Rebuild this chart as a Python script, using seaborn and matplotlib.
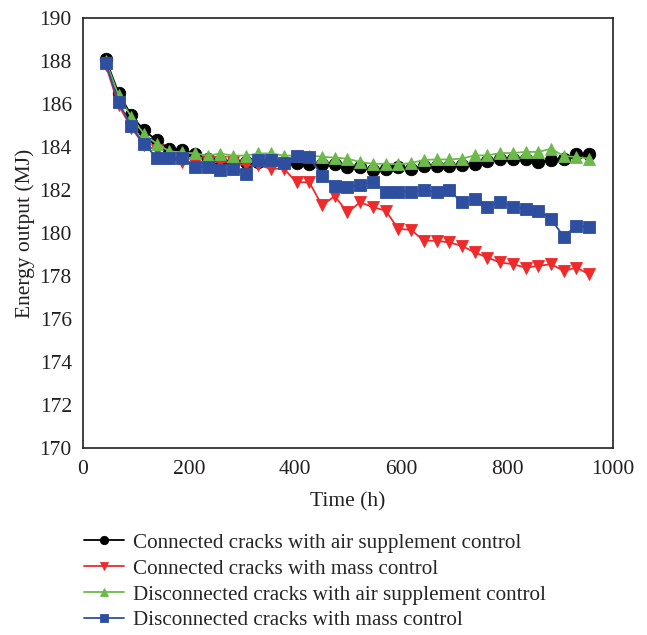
import numpy as np
import pandas as pd
import seaborn as sns
import matplotlib
matplotlib.use("Agg")
import matplotlib.pyplot as plt

time_h = [43 + 24 * i for i in range(39)]

conn_air = [188.08, 186.52, 185.48, 184.78, 184.31, 183.92, 183.85, 183.69, 183.46, 183.35,
            183.3, 183.3, 183.3, 183.3, 183.25, 183.25, 183.22, 183.2, 183.2, 183.07,
            183.07, 182.94, 183.0, 183.07, 183.0, 183.1, 183.1, 183.1, 183.14, 183.22,
            183.35, 183.46, 183.42, 183.42, 183.3, 183.38, 183.45, 183.69, 183.69]
conn_mass = [187.8, 185.95, 184.9, 184.1, 183.85, 183.5, 183.3, 183.2, 183.3, 183.3,
             183.3, 183.14, 183.14, 182.99, 182.99, 182.36, 182.36, 181.28, 181.72, 180.96,
             181.43, 181.2, 181.04, 180.19, 180.15, 179.64, 179.64, 179.56, 179.4, 179.1,
             178.86, 178.63, 178.55, 178.39, 178.47, 178.55, 178.24, 178.39, 178.08]
disc_air = [188.0, 186.4, 185.4, 184.6, 184.15, 183.8, 183.75, 183.7, 183.6, 183.69,
            183.6, 183.6, 183.7, 183.7, 183.6, 183.6, 183.6, 183.55, 183.5, 183.46,
            183.3, 183.22, 183.22, 183.2, 183.25, 183.4, 183.42, 183.42, 183.46, 183.61,
            183.61, 183.72, 183.72, 183.77, 183.77, 183.92, 183.58, 183.53, 183.46]
disc_mass = [187.9, 186.1, 184.97, 184.16, 183.5, 183.5, 183.5, 183.07, 183.07, 182.91,
             182.99, 182.76, 183.38, 183.38, 183.27, 183.57, 183.55, 182.63, 182.2, 182.13,
             182.24, 182.37, 181.93, 181.93, 181.93, 182.0, 181.9, 181.98, 181.43, 181.59,
             181.23, 181.43, 181.23, 181.12, 181.04, 180.65, 179.83, 180.34, 180.26]

labels = ["Connected cracks with air supplement control",
          "Connected cracks with mass control",
          "Disconnected cracks with air supplement control",
          "Disconnected cracks with mass control"]

frames = []
for lab, vals in zip(labels, [conn_air, conn_mass, disc_air, disc_mass]):
    frames.append(pd.DataFrame({"Time (h)": time_h, "Energy output (MJ)": vals, "Series": lab}))
df = pd.concat(frames, ignore_index=True)

sns.set_style("white")
plt.rcParams["font.family"] = ["Liberation Serif", "DejaVu Serif"]

palette = {labels[0]: "#000000", labels[1]: "#EE2A2A", labels[2]: "#6BBA4A", labels[3]: "#2E4F9F"}
markers = {labels[0]: "o", labels[1]: "v", labels[2]: "^", labels[3]: "s"}

fig = plt.figure(figsize=(6.47, 6.35), dpi=100)
ax = fig.add_axes([83 / 647, 1 - 448 / 635, 530 / 647, 430 / 635])

sns.lineplot(data=df, x="Time (h)", y="Energy output (MJ)", hue="Series", style="Series",
             palette=palette, markers=markers, dashes=False, markersize=9,
             markeredgewidth=0.6, linewidth=1.3, ax=ax, legend=True)

for ln in ax.lines:
    c = ln.get_color()
    ln.set_markeredgecolor(c)

ax.set_xlim(0, 1000)
ax.set_ylim(170, 190)
ax.set_xticks(np.arange(0, 1001, 200))
ax.set_yticks(np.arange(170, 191, 2))
ax.tick_params(axis="both", length=0, labelsize=15.5, colors="#231F20")
ax.tick_params(axis="y", pad=8)
ax.tick_params(axis="x", pad=9)
for s in ax.spines.values():
    s.set_color("#231F20")
    s.set_linewidth(1.2)
ax.set_xlabel("Time (h)", fontsize=15.5, labelpad=9, color="#231F20")
ax.set_ylabel("Energy output (MJ)", fontsize=15.5, labelpad=3, color="#231F20")

handles, labs = ax.get_legend_handles_labels()
ax.get_legend().remove()
for h in handles:
    h.set_markersize(6)
    h.set_markeredgecolor(h.get_color())
fig.legend(handles, labs, loc="upper left", bbox_to_anchor=(84 / 647, 1 - 533 / 635),
           frameon=False, fontsize=15.2, handlelength=1.9, handletextpad=0.4,
           labelspacing=0.29, borderaxespad=0, borderpad=0)

fig.savefig("out.png", dpi=100)
